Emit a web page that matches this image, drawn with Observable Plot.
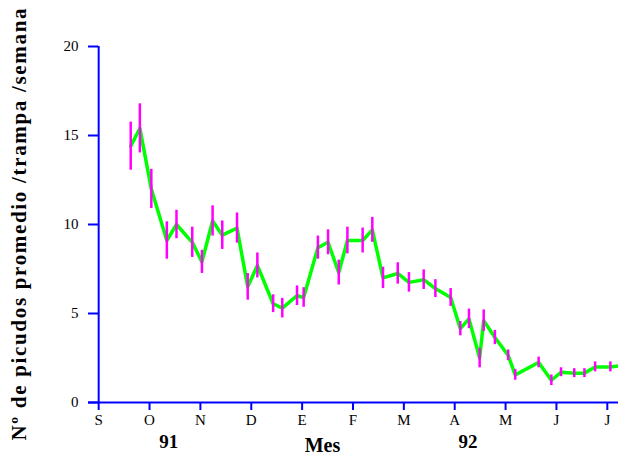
<!DOCTYPE html>
<html>
<head>
<meta charset="utf-8">
<script src="https://cdn.jsdelivr.net/npm/d3@7"></script>
<script src="https://cdn.jsdelivr.net/npm/@observablehq/plot@0.6"></script>
<style>
  html, body { margin: 0; padding: 0; background: white; }
</style>
</head>
<body>
<div id="chart"></div>
<script>
// Month ticks (0 = Sept 1991 ... 10 = July 1992)
const monthIdx = [0, 1, 2, 3, 4, 5, 6, 7, 8, 9, 10];
const monthLabels = ["S", "O", "N", "D", "E", "F", "M", "A", "M", "J", "J"];
const yTicks = [0, 5, 10, 15, 20];

// Sampling positions (in months from start of September)
const samplePos = [0.63, 0.81, 1.035, 1.34, 1.53, 1.84, 2.03, 2.24, 2.43, 2.72,
  2.93, 3.12, 3.43, 3.61, 3.90, 4.03, 4.31, 4.51, 4.72, 4.89,
  5.19, 5.38, 5.59, 5.88, 6.10, 6.39, 6.62, 6.92, 7.11, 7.28,
  7.49, 7.57, 7.79, 8.05, 8.19, 8.65, 8.90, 9.09, 9.35, 9.55,
  9.76, 10.06, 10.22];
// Mean weevils per trap per week
const meanValues = [14.4, 15.4, 12.0, 9.1, 10.0, 9.0, 7.9, 10.2, 9.4, 9.8,
  6.5, 7.7, 5.55, 5.3, 6.0, 5.9, 8.7, 9.0, 7.3, 9.1,
  9.1, 9.7, 7.0, 7.25, 6.75, 6.9, 6.4, 5.9, 4.15, 4.7,
  2.5, 4.6, 3.65, 2.65, 1.55, 2.25, 1.25, 1.7, 1.65, 1.65,
  2.0, 2.0, 2.05];
// Error (half-length of bars)
const errValues = [1.35, 1.38, 1.1, 1.05, 0.8, 0.85, 0.65, 0.85, 0.8, 0.85,
  0.75, 0.7, 0.5, 0.55, 0.55, 0.55, 0.65, 0.7, 0.7, 0.75,
  0.7, 0.7, 0.6, 0.6, 0.55, 0.55, 0.5, 0.5, 0.4, 0.55,
  0.55, 0.6, 0.4, 0.3, 0.3, 0.3, 0.3, 0.25, 0.25, 0.25,
  0.28, 0.28, 0];

// Year / axis-title annotations
const yearLabels = ["91", "92"];
const yearPos = [1.38, 7.26];
const xTitle = "Mes";
const xTitlePos = 4.4;
const yTitle = "Nº de picudos promedio /trampa /semana";

const data = samplePos.map((x, i) => ({x, v: meanValues[i], e: errValues[i]}));
const bars = data.filter(d => d.e > 0);

const chart = Plot.plot({
  width: 618,
  height: 456,
  marginLeft: 88,
  marginRight: 0,
  marginTop: 46,
  marginBottom: 54,
  style: {fontFamily: "'Liberation Serif', 'Times New Roman', serif", background: "white", color: "black"},
  x: {domain: [-0.2, 10.22], axis: null},
  y: {domain: [0, 20], axis: null},
  marks: [
    // axis lines
    Plot.ruleY([0], {stroke: "#0000ff", strokeWidth: 2}),
    Plot.ruleX([0], {y1: 0, y2: 20, stroke: "#0000ff", strokeWidth: 2}),
    // y ticks
    Plot.ruleY(yTicks, {x1: -0.2, x2: 0, stroke: "#0000ff", strokeWidth: 2}),
    Plot.text(yTicks, {x: -0.2, y: d => d, dx: -10, textAnchor: "end", fontSize: 15, fill: "black"}),
    // x ticks
    Plot.axisX({ticks: monthIdx, tickSize: 8, stroke: "#0000ff", strokeWidth: 2, fill: "black",
      tickFormat: i => monthLabels[i], fontSize: 15, tickPadding: 4, label: null}),
    // year labels + title
    Plot.text(yearLabels, {x: (d, i) => yearPos[i], y: 0, dy: 39, text: d => d, fontSize: 19, fontWeight: "bold", fill: "black"}),
    Plot.text([xTitle], {x: xTitlePos, y: 0, dy: 43, text: d => d, fontSize: 20, fontWeight: "bold", fill: "black"}),
    Plot.text([yTitle], {frameAnchor: "left", dx: -69, rotate: -90, textAnchor: "middle", text: d => d, fontSize: 21, fontWeight: "bold", fill: "black"}),
    // data
    Plot.line(data, {x: "x", y: "v", stroke: "#00ff00", strokeWidth: 3.5}),
    Plot.ruleX(bars, {x: "x", y1: d => d.v - d.e, y2: d => d.v + d.e, stroke: "#ff00ff", strokeWidth: 2.5})
  ]
});
// stretch the y-axis title to the reference's length
d3.select(chart).selectAll("text")
  .filter(function() { return this.textContent === yTitle; })
  .attr("textLength", 432)
  .attr("lengthAdjust", "spacing");
document.getElementById("chart").appendChild(chart);
</script>
</body>
</html>
